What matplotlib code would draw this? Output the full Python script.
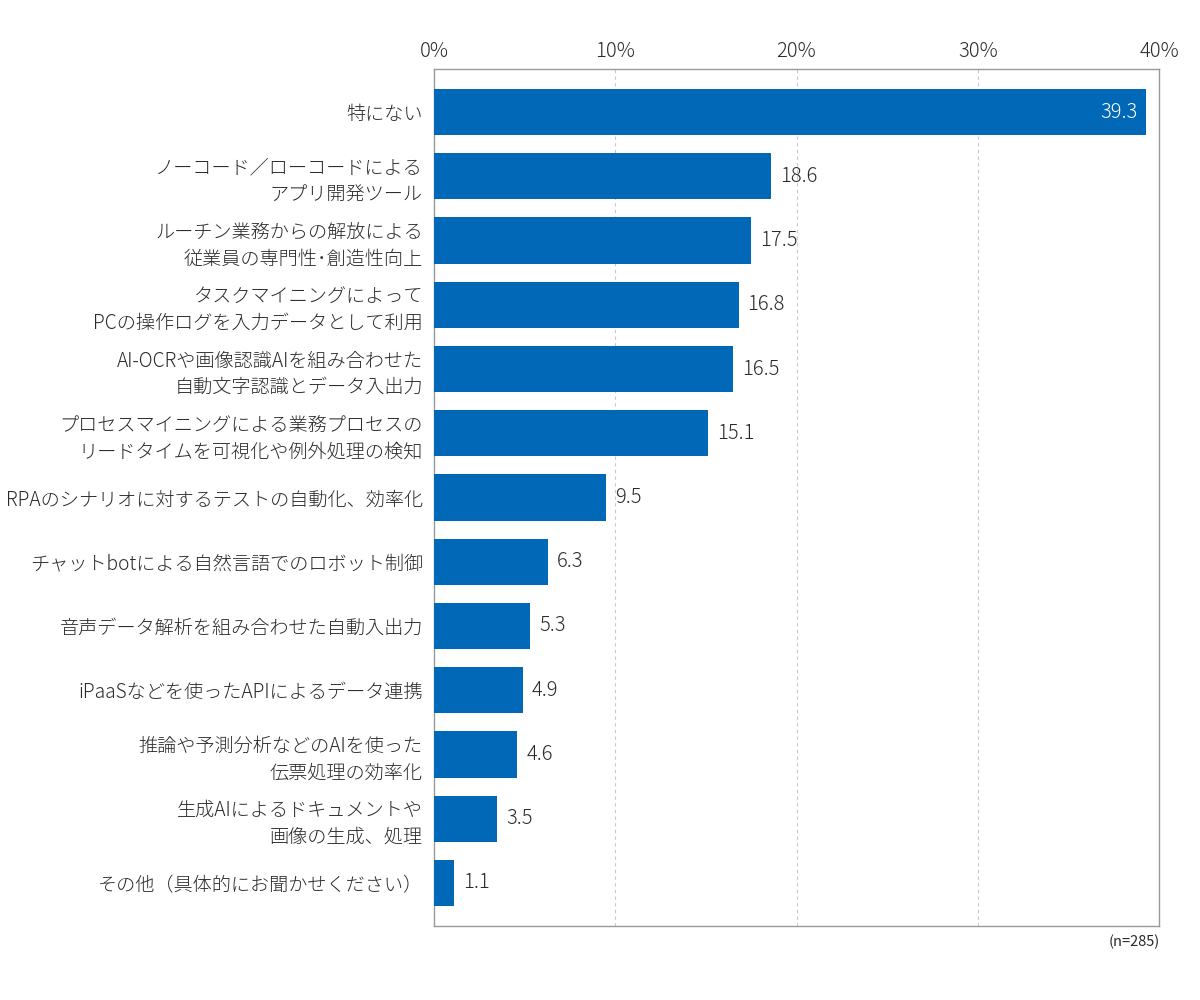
import matplotlib
matplotlib.use("Agg")
import matplotlib.pyplot as plt
import numpy as np

plt.rcParams['font.family'] = ['Noto Sans CJK JP', 'DejaVu Sans']

categories = [
    "特にない",
    "ノーコード／ローコードによる\nアプリ開発ツール",
    "ルーチン業務からの解放による\n従業員の専門性･創造性向上",
    "タスクマイニングによって\nPCの操作ログを入力データとして利用",
    "AI-OCRや画像認識AIを組み合わせた\n自動文字認識とデータ入出力",
    "プロセスマイニングによる業務プロセスの\nリードタイムを可視化や例外処理の検知",
    "RPAのシナリオに対するテストの自動化、効率化",
    "チャットbotによる自然言語でのロボット制御",
    "音声データ解析を組み合わせた自動入出力",
    "iPaaSなどを使ったAPIによるデータ連携",
    "推論や予測分析などのAIを使った\n伝票処理の効率化",
    "生成AIによるドキュメントや\n画像の生成、処理",
    "その他（具体的にお聞かせください）",
]
values = [39.3, 18.6, 17.5, 16.8, 16.5, 15.1, 9.5, 6.3, 5.3, 4.9, 4.6, 3.5, 1.1]
xticks = [0, 10, 20, 30, 40]
xtick_labels = ["0%", "10%", "20%", "30%", "40%"]
note = "(n=285)"

bar_color = "#0068B7"
text_color = "#2a2a2a"

fig = plt.figure(figsize=(12, 10), dpi=100)
ax = fig.add_axes([434/1200, 1 - 926/1000, (1159-434)/1200, (926-69)/1000])

y = np.arange(len(categories))
ax.barh(y, values, height=0.72, color=bar_color, zorder=3)
ax.set_xlim(0, 40)
ax.set_ylim(len(categories) - 1 + 0.67, -0.67)

ax.set_yticks(y)
ax.set_yticklabels(categories, fontsize=13.8, color=text_color, linespacing=1.35,
                   fontweight='light')
ax.tick_params(axis='y', length=0, pad=8)

ax.xaxis.tick_top()
ax.set_xticks(xticks)
ax.set_xticklabels(xtick_labels, fontsize=14.5, color=text_color, fontweight='light')
ax.tick_params(axis='x', length=0, pad=5)

for xv in xticks[1:-1]:
    ax.axvline(xv, color="#c8c8c8", linestyle=(0, (3, 3)), linewidth=0.8, zorder=1)

for s in ax.spines.values():
    s.set_color("#999999")
    s.set_linewidth(1.0)

for i, v in enumerate(values):
    if i == 0:
        ax.text(v - 0.5, i, f"{v:.1f}", va='center', ha='right', fontsize=14.5,
                color='white', zorder=4, fontweight='light')
    else:
        ax.text(v + 0.5, i, f"{v:.1f}", va='center', ha='left', fontsize=14.5,
                color=text_color, zorder=4, fontweight='light')

fig.text(1160/1200, 1 - 942/1000, note, ha='right', va='center', fontsize=10.5,
         color=text_color)

fig.savefig("out.png", dpi=100)
